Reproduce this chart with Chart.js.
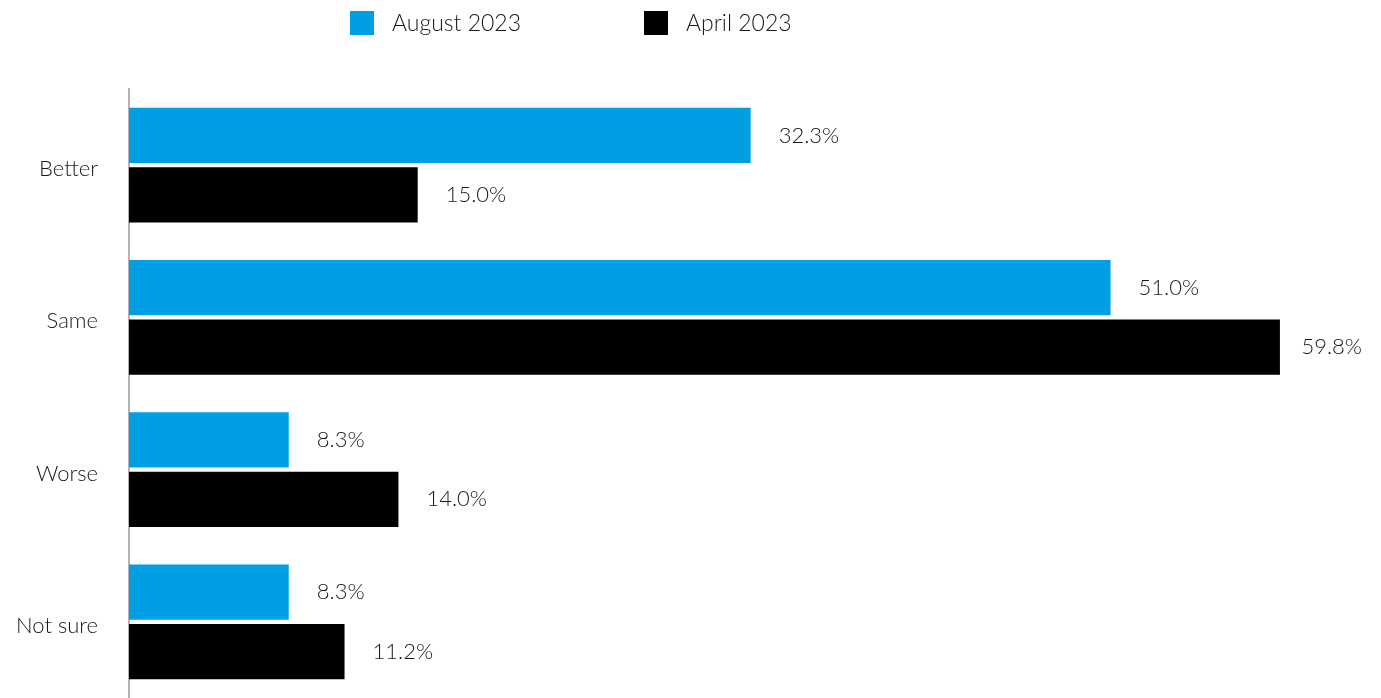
<!DOCTYPE html>
<html>
<head>
<meta charset="utf-8">
<script src="https://cdn.jsdelivr.net/npm/chart.js@4.4.0/dist/chart.umd.min.js"></script>
<style>
  html, body { margin: 0; padding: 0; background: #fff; overflow: hidden; }
</style>
</head>
<body>
<canvas id="chart" width="1381" height="698"></canvas>
<script>
// Datos del gráfico
const categories = ['Better', 'Same', 'Worse', 'Not sure'];
const august2023 = [32.3, 51.0, 8.3, 8.3];
const april2023 = [15.0, 59.8, 14.0, 11.2];
const seriesNames = ['August 2023', 'April 2023'];
const seriesColors = ['#009fe3', '#000000'];

const FONT = 'Lato, "Open Sans", sans-serif';
const TEXT = '#1a1a1a';

// Etiquetas de valor a la derecha de cada barra (sin salirse del lienzo)
const valueLabels = {
    id: 'valueLabels',
    afterDatasetsDraw(chart) {
        const ctx = chart.ctx;
        ctx.save();
        ctx.font = '300 22px ' + FONT;
        ctx.fillStyle = TEXT;
        ctx.textAlign = 'left';
        ctx.textBaseline = 'middle';
        chart.data.datasets.forEach((ds, i) => {
            chart.getDatasetMeta(i).data.forEach((bar, j) => {
                const txt = ds.data[j].toFixed(1) + '%';
                const w = ctx.measureText(txt).width;
                const x = Math.min(bar.x + 28, chart.width - 19 - w);
                ctx.fillText(txt, x, bar.y);
            });
        });
        ctx.restore();
    }
};

// Leyenda manual arriba
const topLegend = {
    id: 'topLegend',
    afterDraw(chart) {
        const ctx = chart.ctx;
        const items = [{ x: 350 }, { x: 644 }];
        ctx.save();
        ctx.font = '300 23px ' + FONT;
        ctx.textBaseline = 'middle';
        items.forEach((it, i) => {
            ctx.fillStyle = seriesColors[i];
            ctx.fillRect(it.x, 11, 24, 24);
            ctx.fillStyle = TEXT;
            ctx.fillText(seriesNames[i], it.x + 42, 24);
        });
        ctx.restore();
    }
};

new Chart(document.getElementById('chart'), {
    type: 'bar',
    data: {
        labels: categories,
        datasets: [
            { label: seriesNames[0], data: august2023, backgroundColor: seriesColors[0] },
            { label: seriesNames[1], data: april2023, backgroundColor: seriesColors[1] }
        ]
    },
    options: {
        indexAxis: 'y',
        responsive: false,
        animation: false,
        categoryPercentage: 0.78,
        barPercentage: 0.93,
        layout: { padding: { top: 89, right: 1, bottom: 0, left: 0 } },
        plugins: {
            legend: { display: false },
            tooltip: { enabled: false }
        },
        scales: {
            x: { display: false, min: 0, max: 65 },
            y: {
                grid: { display: false, drawTicks: false },
                border: { color: '#b3b3b3', width: 2 },
                ticks: {
                    color: TEXT,
                    font: { family: FONT, size: 22, weight: '300' },
                    padding: 31,
                    labelOffset: 4
                },
                afterFit(scale) {
                    scale.width = 129;
                    scale.paddingTop = 0;
                    scale.paddingBottom = 0;
                }
            }
        }
    },
    plugins: [valueLabels, topLegend]
});
</script>
</body>
</html>
